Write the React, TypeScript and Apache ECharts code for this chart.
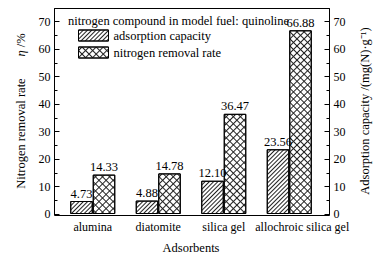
import React, { useEffect, useRef } from "react";
import * as echarts from "echarts";

const categories = ["alumina", "diatomite", "silica gel", "allochroic silica gel"];
const adsorptionCapacity = [4.73, 4.88, 12.10, 23.56];
const removalRate = [14.33, 14.78, 36.47, 66.88];
const seriesNames = ["adsorption capacity", "nitrogen removal rate"];
const titleText = "nitrogen compound in model fuel: quinoline";

const FONT = "Liberation Serif";
const TXT = "#000";

export default function App() {
  const ref = useRef<HTMLDivElement>(null);
  useEffect(() => {
    if (!ref.current) return;
    const chart = echarts.init(ref.current, null, { renderer: "svg" });
    const hatch = {
      symbol: "rect",
      color: "#222",
      backgroundColor: "#fff",
      dashArrayX: [1, 0],
      dashArrayY: [1, 2],
      rotation: -Math.PI / 4,
    };
    const cross = {
      symbol: "path://M0,2H5V3H0Z M2,0H3V5H2Z",
      symbolSize: 1,
      color: "#222",
      backgroundColor: "#fff",
      dashArrayX: [[5, 0]],
      dashArrayY: [5, 0],
      rotation: Math.PI / 4,
    };
    const tickFmt = (v: number) => (v === 75 ? "" : String(v));
    const labelStyle = { fontFamily: FONT, fontSize: 12.5, color: TXT };
    const tickStyle = { fontFamily: FONT, fontSize: 12, color: TXT };
    const barLabel = {
      show: true,
      position: "top",
      distance: 1,
      fontFamily: FONT,
      fontSize: 12.5,
      color: "#000",
      textBorderWidth: 0,
      textBorderColor: "transparent",
      formatter: (p: any) => p.value.toFixed(2),
    };
    const baseY = {
      type: "value",
      min: 0,
      max: 75,
      splitLine: { show: false },
      axisLine: { show: false },
    };
    chart.setOption({
      animation: false,
      backgroundColor: "#fff",
      textStyle: { fontFamily: FONT, color: TXT },
      grid: { left: 60, right: 60, top: 8, bottom: 44, containLabel: false },
      title: {
        text: titleText,
        left: 68,
        top: 14,
        padding: 0,
        textStyle: { fontFamily: FONT, fontSize: 12.5, fontWeight: "normal", color: TXT },
      },
      legend: {
        orient: "vertical",
        left: 78,
        top: 29,
        padding: 0,
        itemWidth: 30,
        itemHeight: 11,
        itemGap: 4,
        icon: "rect",
        itemStyle: { borderColor: "#000", borderWidth: 1 },
        textStyle: { fontFamily: FONT, fontSize: 12.5, color: TXT },
        data: seriesNames,
      },
      xAxis: {
        type: "category",
        data: categories.map((c, i) =>
          i === 3 ? { value: c, textStyle: { padding: [0, 0, 0, 26] } } : c
        ),
        axisLine: { show: false },
        axisTick: { show: false },
        axisLabel: { ...labelStyle, fontSize: 12, margin: 7, interval: 0 },
        name: "Adsorbents",
        nameLocation: "middle",
        nameGap: 27,
        nameTextStyle: { ...labelStyle },
      },
      yAxis: [
        {
          ...baseY,
          position: "left",
          offset: 5.5,
          interval: 10,
          axisTick: { show: true, inside: true, length: 5, lineStyle: { color: "#000" } },
          axisLabel: { ...tickStyle, margin: 4, formatter: tickFmt },
          name: "Nitrogen removal rate       {i|η} /%",
          nameLocation: "middle",
          nameRotate: 90,
          nameGap: 27,
          nameTextStyle: {
            ...labelStyle,
            rich: { i: { fontFamily: FONT, fontSize: 12.5, fontStyle: "italic", color: TXT } },
          },
        },
        {
          ...baseY,
          position: "left",
          offset: 5.5,
          interval: 5,
          axisTick: { show: true, inside: true, length: 3, lineStyle: { color: "#000" } },
          axisLabel: { show: false },
        },
        {
          ...baseY,
          position: "right",
          offset: 7.5,
          interval: 10,
          axisTick: { show: true, inside: true, length: 5, lineStyle: { color: "#000" } },
          axisLabel: { ...tickStyle, margin: 4, formatter: tickFmt },
          name: "Adsorption capacity /(mg(N)·g⁻¹)",
          nameLocation: "middle",
          nameRotate: 90,
          nameGap: 29,
          nameTextStyle: { ...labelStyle },
        },
        {
          ...baseY,
          position: "right",
          offset: 7.5,
          interval: 5,
          axisTick: { show: true, inside: true, length: 3, lineStyle: { color: "#000" } },
          axisLabel: { show: false },
        },
      ],
      graphic: [
        {
          type: "rect",
          shape: { x: 54.5, y: 8.5, width: 275, height: 207 },
          style: { fill: "none", stroke: "#000", lineWidth: 1 },
          z: 100,
          silent: true,
        },
      ],
      series: [
        {
          name: seriesNames[0],
          type: "bar",
          yAxisIndex: 2,
          data: adsorptionCapacity,
          barWidth: 22.5,
          barGap: "0%",
          itemStyle: { color: "#fff", borderColor: "#000", borderWidth: 1, decal: hatch },
          label: barLabel,
        },
        {
          name: seriesNames[1],
          type: "bar",
          yAxisIndex: 0,
          data: removalRate,
          barWidth: 22.5,
          barGap: "0%",
          itemStyle: { color: "#fff", borderColor: "#000", borderWidth: 1, decal: cross },
          label: barLabel,
        },
      ],
    });
    return () => chart.dispose();
  }, []);
  return (
    <div
      ref={ref}
      style={{ position: "fixed", left: 0, top: 0, width: 382, height: 259, background: "#fff" }}
    />
  );
}
